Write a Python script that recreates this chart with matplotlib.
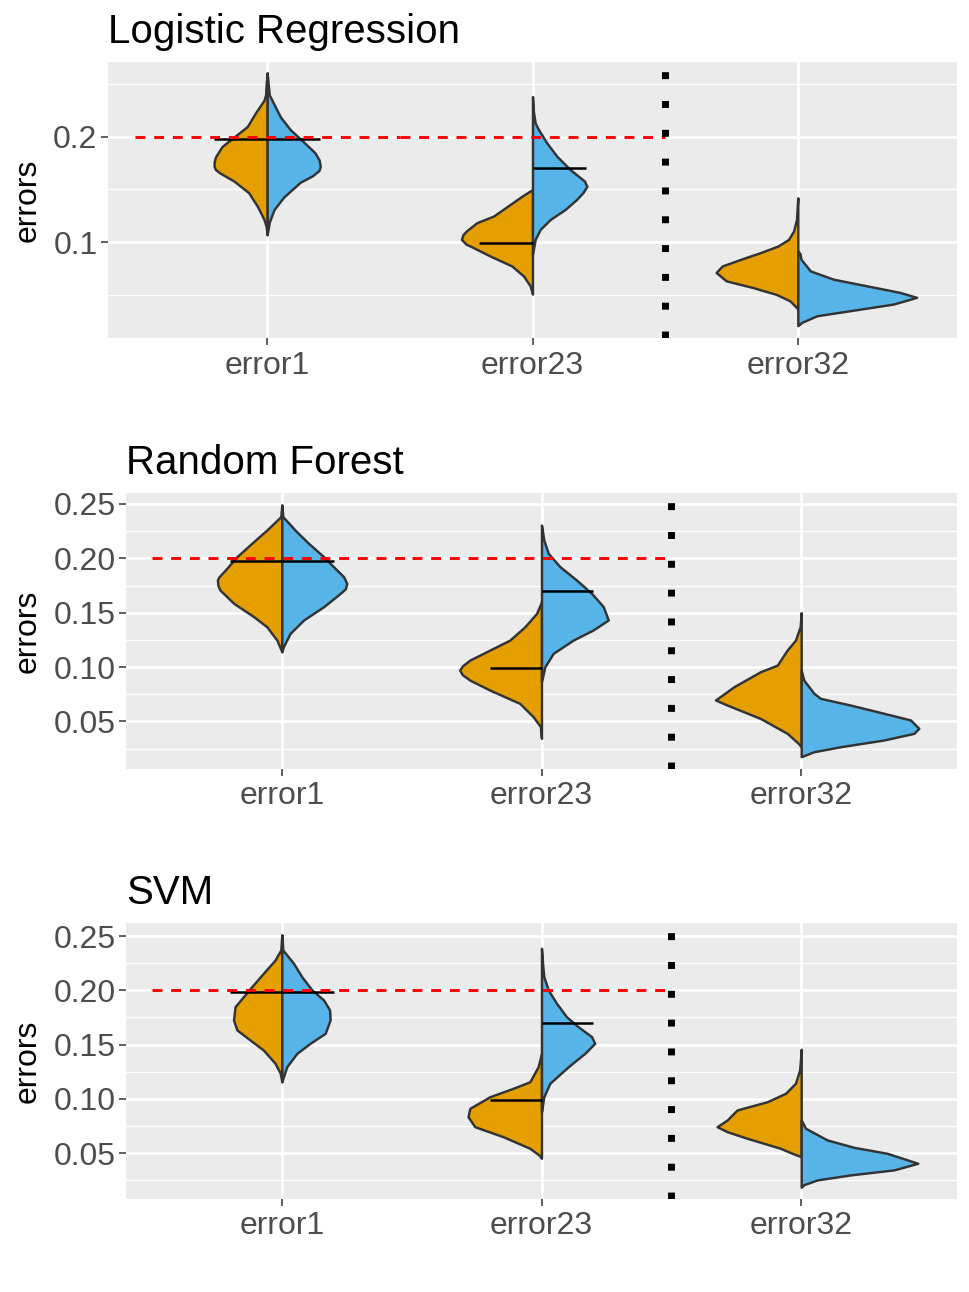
import matplotlib.pyplot as plt
from matplotlib.ticker import FormatStrFormatter

plt.rcParams['font.family'] = ['Liberation Sans', 'DejaVu Sans']

CATEGORIES = ['error1', 'error23', 'error32']
MODELS = ['Logistic Regression', 'Random Forest', 'SVM']
FILL_A = '#E69F00'
FILL_B = '#56B4E9'
THRESHOLD = 0.2
REF_SPANS = [(0.5, 1.5), (1.5, 2.5)]
SPLIT_AT = 2.5

# half-violin outlines: (error value, half width)
LR_E1_A = [(0.261, 0.0), (0.250, 0.004), (0.240, 0.006), (0.235, 0.012), (0.223, 0.044),
           (0.210, 0.075), (0.200, 0.125), (0.191, 0.17), (0.181, 0.195), (0.176, 0.2),
           (0.172, 0.2), (0.169, 0.195), (0.166, 0.18), (0.158, 0.125), (0.147, 0.07),
           (0.134, 0.037), (0.122, 0.013), (0.115, 0.004), (0.107, 0.0)]
LR_E1_B = [(0.261, 0.0), (0.250, 0.004), (0.240, 0.008), (0.219, 0.05), (0.207, 0.087),
           (0.197, 0.13), (0.185, 0.18), (0.178, 0.196), (0.172, 0.2), (0.168, 0.195),
           (0.163, 0.17), (0.157, 0.125), (0.143, 0.063), (0.131, 0.026), (0.119, 0.008),
           (0.107, 0.0)]
LR_E23_A = [(0.150, 0.0), (0.1436, 0.04), (0.1358, 0.084), (0.1247, 0.147), (0.1184, 0.21),
            (0.1104, 0.25), (0.107, 0.262), (0.1025, 0.268), (0.0978, 0.25), (0.0962, 0.235),
            (0.0867, 0.16), (0.0772, 0.078), (0.0677, 0.034), (0.0583, 0.009), (0.0504, 0.0)]
LR_E23_B = [(0.2385, 0.0), (0.225, 0.003), (0.2133, 0.01), (0.2069, 0.023), (0.1943, 0.054),
            (0.1816, 0.092), (0.169, 0.142), (0.158, 0.196), (0.153, 0.205), (0.147, 0.19),
            (0.1405, 0.166), (0.131, 0.123), (0.1215, 0.067), (0.112, 0.029), (0.1025, 0.01),
            (0.0883, 0.0)]
LR_E32_A = [(0.1421, 0.0), (0.130, 0.003), (0.1215, 0.005), (0.1104, 0.016), (0.1025, 0.035),
            (0.0962, 0.075), (0.090, 0.14), (0.084, 0.21), (0.0772, 0.285), (0.071, 0.308),
            (0.063, 0.27), (0.0567, 0.17), (0.050, 0.08), (0.044, 0.03), (0.039, 0.01),
            (0.0361, 0.0)]
LR_E32_B = [(0.0915, 0.0), (0.089, 0.008), (0.0836, 0.012), (0.0725, 0.047), (0.0646, 0.134),
            (0.0583, 0.26), (0.052, 0.385), (0.0473, 0.448), (0.0409, 0.36), (0.0346, 0.197),
            (0.0298, 0.072), (0.0235, 0.015), (0.0203, 0.0)]

RF_E1_A = [(0.249, 0.0), (0.2383, 0.004), (0.226, 0.058), (0.2138, 0.116), (0.2015, 0.173),
           (0.1892, 0.218), (0.183, 0.242), (0.180, 0.248), (0.175, 0.246), (0.1708, 0.238),
           (0.1586, 0.185), (0.1463, 0.108), (0.1371, 0.058), (0.1248, 0.019), (0.1141, 0.0)]
RF_E1_B = [(0.249, 0.0), (0.2383, 0.004), (0.226, 0.051), (0.2138, 0.103), (0.2015, 0.161),
           (0.1923, 0.199), (0.1831, 0.238), (0.177, 0.25), (0.172, 0.245), (0.1678, 0.225),
           (0.1555, 0.161), (0.1433, 0.084), (0.131, 0.032), (0.1187, 0.006), (0.1141, 0.0)]
RF_E23_A = [(0.160, 0.0), (0.1494, 0.019), (0.1371, 0.064), (0.1248, 0.122), (0.1156, 0.199),
            (0.1064, 0.276), (0.101, 0.305), (0.0972, 0.315), (0.093, 0.305), (0.088, 0.276),
            (0.0788, 0.199), (0.0666, 0.084), (0.0543, 0.032), (0.0451, 0.004), (0.040, 0.003),
            (0.0344, 0.0)]
RF_E23_B = [(0.2306, 0.0), (0.2168, 0.009), (0.2046, 0.026), (0.1923, 0.071), (0.180, 0.135),
            (0.1678, 0.193), (0.1555, 0.238), (0.1433, 0.257), (0.1341, 0.199), (0.1248, 0.122),
            (0.1126, 0.045), (0.1003, 0.013), (0.0865, 0.0)]
RF_E32_A = [(0.150, 0.0), (0.1371, 0.004), (0.1248, 0.022), (0.1156, 0.054), (0.1018, 0.092),
            (0.0957, 0.157), (0.0819, 0.259), (0.0697, 0.33), (0.065, 0.285), (0.0527, 0.157),
            (0.039, 0.054), (0.030, 0.012), (0.0267, 0.0)]
RF_E32_B = [(0.0972, 0.0), (0.088, 0.01), (0.0758, 0.049), (0.0712, 0.074), (0.065, 0.19),
            (0.0574, 0.319), (0.0513, 0.421), (0.0436, 0.453), (0.039, 0.434), (0.0329, 0.319),
            (0.0267, 0.152), (0.0221, 0.049), (0.0175, 0.0)]

SVM_E1_A = [(0.251, 0.0), (0.2371, 0.004), (0.2279, 0.026), (0.2157, 0.071), (0.2033, 0.116),
            (0.1941, 0.148), (0.1849, 0.18), (0.1727, 0.186), (0.1635, 0.173), (0.1542, 0.122),
            (0.145, 0.071), (0.1328, 0.026), (0.1236, 0.006), (0.1158, 0.0)]
SVM_E1_B = [(0.251, 0.0), (0.2371, 0.004), (0.2249, 0.045), (0.2125, 0.077), (0.2003, 0.116),
            (0.1911, 0.161), (0.1819, 0.184), (0.1727, 0.186), (0.1604, 0.167), (0.1512, 0.109),
            (0.142, 0.058), (0.1296, 0.019), (0.1158, 0.0)]
SVM_E23_A = [(0.142, 0.0), (0.1296, 0.013), (0.1158, 0.045), (0.1098, 0.109), (0.102, 0.199),
             (0.0913, 0.276), (0.0836, 0.283), (0.0744, 0.257), (0.0652, 0.148), (0.0545, 0.045),
             (0.048, 0.008), (0.0453, 0.0)]
SVM_E23_B = [(0.2387, 0.0), (0.2249, 0.004), (0.2125, 0.009), (0.2003, 0.026), (0.188, 0.058),
             (0.1757, 0.096), (0.1665, 0.141), (0.1573, 0.193), (0.1512, 0.205), (0.142, 0.167),
             (0.1296, 0.103), (0.1144, 0.032), (0.102, 0.009), (0.0882, 0.0)]
SVM_E32_A = [(0.1457, 0.0), (0.135, 0.003), (0.1266, 0.006), (0.1144, 0.022), (0.1052, 0.06),
             (0.0974, 0.131), (0.0898, 0.247), (0.0806, 0.285), (0.0744, 0.324), (0.0698, 0.285),
             (0.0637, 0.208), (0.0545, 0.08), (0.0499, 0.035), (0.0468, 0.0)]
SVM_E32_B = [(0.0806, 0.0), (0.0729, 0.017), (0.0622, 0.1), (0.0554, 0.203), (0.0499, 0.331),
             (0.0407, 0.449), (0.0346, 0.357), (0.030, 0.19), (0.0254, 0.062), (0.021, 0.01),
             (0.0186, 0.0)]

# medians: error1 A, error1 B, error23 A, error23 B
LR_MEDIANS = [0.198, 0.198, 0.0995, 0.1706]
RF_MEDIANS = [0.198, 0.198, 0.099, 0.1702]
SVM_MEDIANS = [0.198, 0.198, 0.099, 0.1702]

LR_TICKS = [0.1, 0.2]
LR_MINOR = [0.05, 0.15, 0.25]
RF_TICKS = [0.05, 0.10, 0.15, 0.20, 0.25]
RF_MINOR = [0.025, 0.075, 0.125, 0.175, 0.225]
SVM_TICKS = [0.05, 0.10, 0.15, 0.20, 0.25]
SVM_MINOR = [0.025, 0.075, 0.125, 0.175, 0.225]

panels = [
    (MODELS[0], [(LR_E1_A, LR_E1_B), (LR_E23_A, LR_E23_B), (LR_E32_A, LR_E32_B)],
     LR_MEDIANS, LR_TICKS, LR_MINOR, '%.1f', (0.0086, 0.2714), (108, 62, 957, 338)),
    (MODELS[1], [(RF_E1_A, RF_E1_B), (RF_E23_A, RF_E23_B), (RF_E32_A, RF_E32_B)],
     RF_MEDIANS, RF_TICKS, RF_MINOR, '%.2f', (0.0062, 0.2601), (126, 493, 957, 769)),
    (MODELS[2], [(SVM_E1_A, SVM_E1_B), (SVM_E23_A, SVM_E23_B), (SVM_E32_A, SVM_E32_B)],
     SVM_MEDIANS, SVM_TICKS, SVM_MINOR, '%.2f', (0.0078, 0.262), (126, 923, 957, 1199)),
]

W, H = 969, 1292
fig = plt.figure(figsize=(W / 100, H / 100), dpi=100)


def draw_half(ax, pos, profile, side, color):
    ys = [p[0] for p in profile]
    xs = [pos + side * p[1] for p in profile]
    ax.fill_betweenx(ys, xs, pos, facecolor=color, edgecolor='#333333',
                     linewidth=1.75, joinstyle='round', zorder=2)


for name, halves, medians, ticks, minor, fmt, ylim, box in panels:
    l, t, r, b = box
    ax = fig.add_axes([l / W, 1 - b / H, (r - l) / W, (b - t) / H])
    ax.set_facecolor('#EBEBEB')
    for s in ax.spines.values():
        s.set_visible(False)

    for i, (half_a, half_b) in enumerate(halves):
        pos = i + 1
        draw_half(ax, pos, half_a, -1, FILL_A)
        draw_half(ax, pos, half_b, 1, FILL_B)

    # median bars for error1 and error23
    for i in range(2):
        pos = i + 1
        ax.plot([pos - 0.2, pos], [medians[2 * i]] * 2, color='black', lw=1.8,
                solid_capstyle='butt', zorder=3)
        ax.plot([pos, pos + 0.2], [medians[2 * i + 1]] * 2, color='black', lw=1.8,
                solid_capstyle='butt', zorder=3)

    for x0, x1 in REF_SPANS:
        ax.plot([x0, x1], [THRESHOLD, THRESHOLD], color='red', lw=2.1,
                linestyle=(0, (3.4, 3.0)), dash_capstyle='butt', zorder=4)
    ax.axvline(SPLIT_AT, color='black', lw=5.0, linestyle=(0, (1, 3.15)),
               dash_capstyle='butt', zorder=4)

    ax.set_xticks([1, 2, 3])
    ax.set_xticklabels(CATEGORIES)
    ax.set_yticks(ticks)
    ax.set_yticks(minor, minor=True)
    ax.set_xlim(0.4, 3.6)
    ax.set_ylim(*ylim)
    ax.yaxis.set_major_formatter(FormatStrFormatter(fmt))
    ax.set_axisbelow(True)
    ax.grid(which='major', color='white', lw=1.9)
    ax.grid(which='minor', axis='y', color='white', lw=0.95)
    ax.tick_params(which='major', length=5, width=1.1, color='#333333',
                   labelcolor='#4D4D4D', labelsize=23, pad=2.5)
    ax.tick_params(axis='x', which='major', pad=4)
    ax.tick_params(which='minor', length=0)
    ax.set_title(name, loc='left', fontsize=29, pad=14)

    fig.text(28 / W, 1 - (t + b) / 2 / H, 'errors', rotation=90, ha='center',
             va='center', fontsize=23)

fig.savefig('out.png', dpi=100)
